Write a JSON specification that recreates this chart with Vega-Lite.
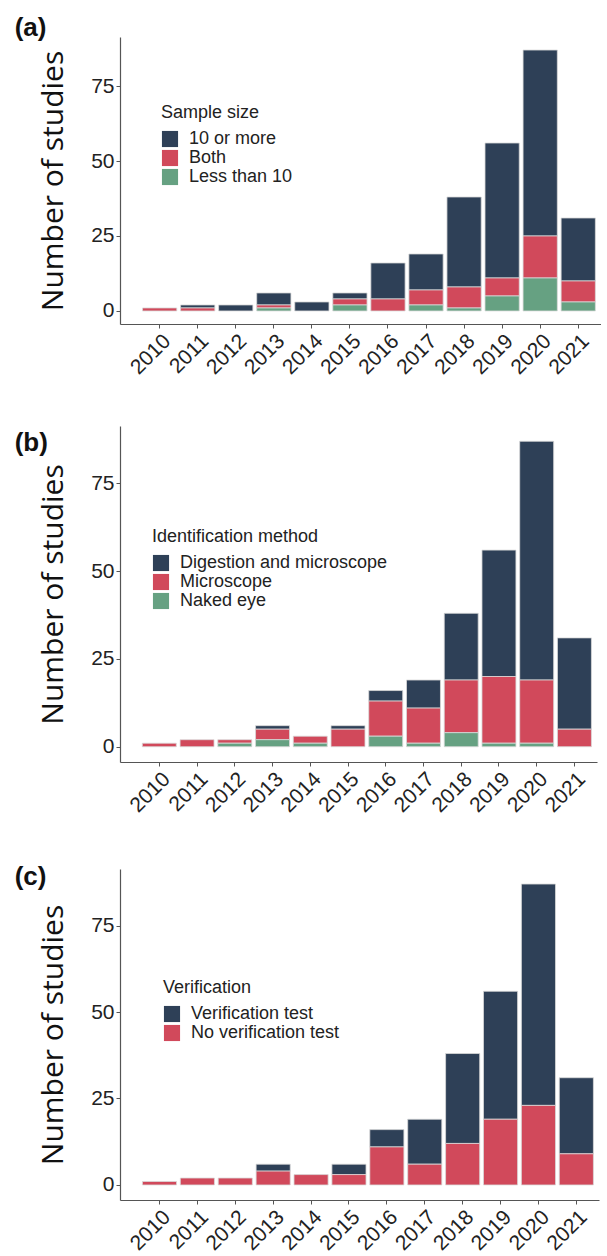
{
  "$schema": "https://vega.github.io/schema/vega-lite/v6.json",
  "padding": {"left": 14, "top": 15, "right": 0, "bottom": 0},
  "background": "white",
  "resolve": {"scale": {"color": "independent"}, "legend": {"color": "independent"}},
  "config": {
    "font": "Liberation Sans",
    "view": {"stroke": null},
    "axis": {
      "domainColor": "#555555", "domainWidth": 1.2, "tickColor": "#555555", "tickSize": 4,
      "labelFontSize": 21, "labelColor": "#222222", "grid": false, "labelFont": "Liberation Sans"
    },
    "legend": {
      "titleFontSize": 18, "titleFontWeight": "normal", "titleColor": "#222222", "titleFont": "Liberation Sans",
      "labelFontSize": 18, "labelColor": "#222222", "labelFont": "Liberation Sans", "labelLimit": 400,
      "symbolType": "square", "symbolSize": 260, "symbolStrokeWidth": 0, "rowPadding": 1, "labelOffset": 10,
      "orient": "none", "titlePadding": 8
    },
    "title": {"fontSize": 26, "fontWeight": "bold", "anchor": "start", "frame": "bounds", "color": "#111111", "font": "Liberation Sans", "dx": -24},
    "concat": {"spacing": 48}
  },
  "datasets": {
    "a": [
      {"year": "2010", "group": "Both", "n": 1},
      {"year": "2011", "group": "10 or more", "n": 1},
      {"year": "2011", "group": "Both", "n": 1},
      {"year": "2012", "group": "10 or more", "n": 2},
      {"year": "2013", "group": "10 or more", "n": 4},
      {"year": "2013", "group": "Both", "n": 1},
      {"year": "2013", "group": "Less than 10", "n": 1},
      {"year": "2014", "group": "10 or more", "n": 3},
      {"year": "2015", "group": "10 or more", "n": 2},
      {"year": "2015", "group": "Both", "n": 2},
      {"year": "2015", "group": "Less than 10", "n": 2},
      {"year": "2016", "group": "10 or more", "n": 12},
      {"year": "2016", "group": "Both", "n": 4},
      {"year": "2017", "group": "10 or more", "n": 12},
      {"year": "2017", "group": "Both", "n": 5},
      {"year": "2017", "group": "Less than 10", "n": 2},
      {"year": "2018", "group": "10 or more", "n": 30},
      {"year": "2018", "group": "Both", "n": 7},
      {"year": "2018", "group": "Less than 10", "n": 1},
      {"year": "2019", "group": "10 or more", "n": 45},
      {"year": "2019", "group": "Both", "n": 6},
      {"year": "2019", "group": "Less than 10", "n": 5},
      {"year": "2020", "group": "10 or more", "n": 62},
      {"year": "2020", "group": "Both", "n": 14},
      {"year": "2020", "group": "Less than 10", "n": 11},
      {"year": "2021", "group": "10 or more", "n": 21},
      {"year": "2021", "group": "Both", "n": 7},
      {"year": "2021", "group": "Less than 10", "n": 3}
    ],
    "b": [
      {"year": "2010", "group": "Microscope", "n": 1},
      {"year": "2011", "group": "Microscope", "n": 2},
      {"year": "2012", "group": "Microscope", "n": 1},
      {"year": "2012", "group": "Naked eye", "n": 1},
      {"year": "2013", "group": "Digestion and microscope", "n": 1},
      {"year": "2013", "group": "Microscope", "n": 3},
      {"year": "2013", "group": "Naked eye", "n": 2},
      {"year": "2014", "group": "Microscope", "n": 2},
      {"year": "2014", "group": "Naked eye", "n": 1},
      {"year": "2015", "group": "Digestion and microscope", "n": 1},
      {"year": "2015", "group": "Microscope", "n": 5},
      {"year": "2016", "group": "Digestion and microscope", "n": 3},
      {"year": "2016", "group": "Microscope", "n": 10},
      {"year": "2016", "group": "Naked eye", "n": 3},
      {"year": "2017", "group": "Digestion and microscope", "n": 8},
      {"year": "2017", "group": "Microscope", "n": 10},
      {"year": "2017", "group": "Naked eye", "n": 1},
      {"year": "2018", "group": "Digestion and microscope", "n": 19},
      {"year": "2018", "group": "Microscope", "n": 15},
      {"year": "2018", "group": "Naked eye", "n": 4},
      {"year": "2019", "group": "Digestion and microscope", "n": 36},
      {"year": "2019", "group": "Microscope", "n": 19},
      {"year": "2019", "group": "Naked eye", "n": 1},
      {"year": "2020", "group": "Digestion and microscope", "n": 68},
      {"year": "2020", "group": "Microscope", "n": 18},
      {"year": "2020", "group": "Naked eye", "n": 1},
      {"year": "2021", "group": "Digestion and microscope", "n": 26},
      {"year": "2021", "group": "Microscope", "n": 5}
    ],
    "c": [
      {"year": "2010", "group": "No verification test", "n": 1},
      {"year": "2011", "group": "No verification test", "n": 2},
      {"year": "2012", "group": "No verification test", "n": 2},
      {"year": "2013", "group": "Verification test", "n": 2},
      {"year": "2013", "group": "No verification test", "n": 4},
      {"year": "2014", "group": "No verification test", "n": 3},
      {"year": "2015", "group": "Verification test", "n": 3},
      {"year": "2015", "group": "No verification test", "n": 3},
      {"year": "2016", "group": "Verification test", "n": 5},
      {"year": "2016", "group": "No verification test", "n": 11},
      {"year": "2017", "group": "Verification test", "n": 13},
      {"year": "2017", "group": "No verification test", "n": 6},
      {"year": "2018", "group": "Verification test", "n": 26},
      {"year": "2018", "group": "No verification test", "n": 12},
      {"year": "2019", "group": "Verification test", "n": 37},
      {"year": "2019", "group": "No verification test", "n": 19},
      {"year": "2020", "group": "Verification test", "n": 64},
      {"year": "2020", "group": "No verification test", "n": 23},
      {"year": "2021", "group": "Verification test", "n": 22},
      {"year": "2021", "group": "No verification test", "n": 9}
    ]
  },
  "vconcat": [
    {
      "title": {"text": "(a)", "dy": 8},
      "data": {"name": "a"},
      "width": 481, "height": 287,
      "mark": {"type": "bar", "stroke": "#d9d9d9", "strokeWidth": 0.8},
      "encoding": {
        "x": {"field": "year", "type": "nominal", "scale": {"paddingInner": 0.1, "paddingOuter": 0.37, "align": 0.8, "round": false},
              "axis": {"title": null, "labelAngle": -45, "labelAlign": "right", "labelBaseline": "top", "labelPadding": 2}},
        "y": {"field": "n", "type": "quantitative", "stack": "zero", "scale": {"domain": [-4.35, 91.35], "nice": false, "zero": false},
              "axis": {"values": [0, 25, 50, 75], "title": "Number of studies", "titleFont": "Open Sans", "titleFontSize": 30, "titleFontWeight": "normal", "titleColor": "#111111", "titlePadding": 22}},
        "color": {"field": "group", "type": "nominal",
                  "scale": {"domain": ["10 or more", "Both", "Less than 10"], "range": ["#2e4057", "#d1495b", "#66a182"]},
                  "legend": {"title": "Sample size", "legendX": 41, "legendY": 67}},
        "order": {"field": "group", "sort": "descending"}
      }
    },
    {
      "title": {"text": "(b)", "dy": 34},
      "data": {"name": "b"},
      "width": 477, "height": 336,
      "mark": {"type": "bar", "stroke": "#d9d9d9", "strokeWidth": 0.8},
      "encoding": {
        "x": {"field": "year", "type": "nominal", "scale": {"paddingInner": 0.1, "paddingOuter": 0.37, "align": 0.8, "round": false},
              "axis": {"title": null, "labelAngle": -45, "labelAlign": "right", "labelBaseline": "top", "labelPadding": 2}},
        "y": {"field": "n", "type": "quantitative", "stack": "zero", "scale": {"domain": [-4.35, 91.35], "nice": false, "zero": false},
              "axis": {"values": [0, 25, 50, 75], "title": "Number of studies", "titleFont": "Open Sans", "titleFontSize": 30, "titleFontWeight": "normal", "titleColor": "#111111", "titlePadding": 22}},
        "color": {"field": "group", "type": "nominal",
                  "scale": {"domain": ["Digestion and microscope", "Microscope", "Naked eye"], "range": ["#2e4057", "#d1495b", "#66a182"]},
                  "legend": {"title": "Identification method", "legendX": 32, "legendY": 102}},
        "order": {"field": "group", "sort": "descending"}
      }
    },
    {
      "title": {"text": "(c)", "dy": 25},
      "data": {"name": "c"},
      "width": 479, "height": 331,
      "mark": {"type": "bar", "stroke": "#d9d9d9", "strokeWidth": 0.8},
      "encoding": {
        "x": {"field": "year", "type": "nominal", "scale": {"paddingInner": 0.1, "paddingOuter": 0.37, "align": 0.8, "round": false},
              "axis": {"title": null, "labelAngle": -45, "labelAlign": "right", "labelBaseline": "top", "labelPadding": 2}},
        "y": {"field": "n", "type": "quantitative", "stack": "zero", "scale": {"domain": [-4.35, 91.35], "nice": false, "zero": false},
              "axis": {"values": [0, 25, 50, 75], "title": "Number of studies", "titleFont": "Open Sans", "titleFontSize": 30, "titleFontWeight": "normal", "titleColor": "#111111", "titlePadding": 22}},
        "color": {"field": "group", "type": "nominal",
                  "scale": {"domain": ["Verification test", "No verification test"], "range": ["#2e4057", "#d1495b"]},
                  "legend": {"title": "Verification", "legendX": 43, "legendY": 110}},
        "order": {"field": "group", "sort": "ascending"}
      }
    }
  ]
}
